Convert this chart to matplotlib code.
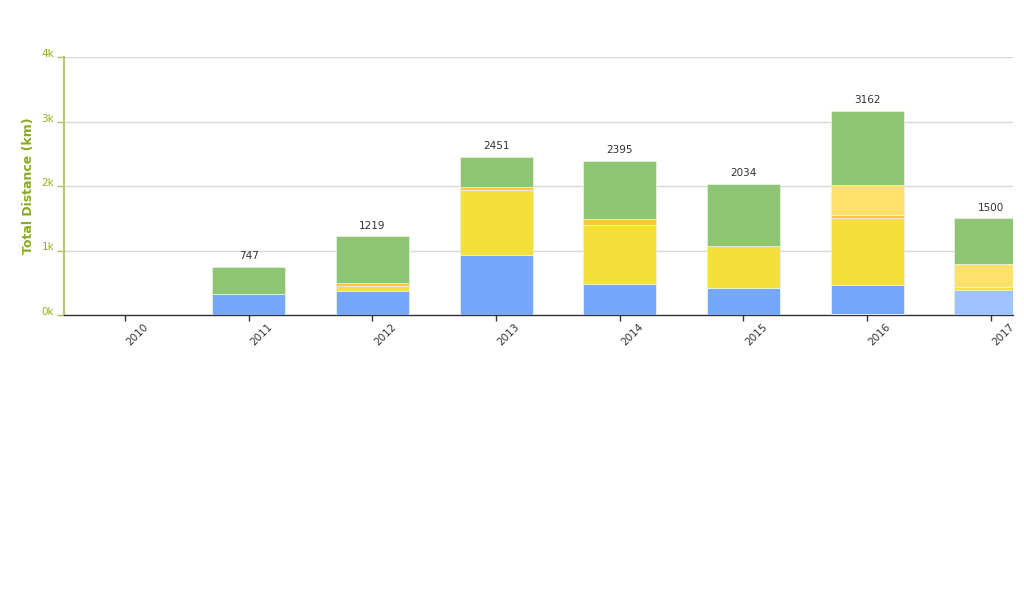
import numpy as np
import matplotlib
matplotlib.use("Agg")
import matplotlib.pyplot as plt

years = ["2010", "2011", "2012", "2013", "2014", "2015", "2016", "2017"]

# stacked series, bottom to top
red = [0, 0, 0, 0, 0, 0, 22, 0]
blue = [0, 326, 372, 930, 481, 423, 440, 0]
light_blue = [0, 0, 0, 0, 0, 0, 0, 393]
yellow = [0, 0, 83, 1008, 909, 652, 1039, 41]
orange = [0, 0, 41, 51, 93, 0, 46, 0]
light_yellow = [0, 0, 0, 0, 0, 0, 476, 361]
green = [0, 421, 723, 462, 912, 959, 1139, 705]
totals = [0, 747, 1219, 2451, 2395, 2034, 3162, 1500]

series = [
    (red, "#d9534f"),
    (blue, "#77a7fb"),
    (light_blue, "#a1c3fd"),
    (yellow, "#f4df3b"),
    (orange, "#fbc63f"),
    (light_yellow, "#fee06a"),
    (green, "#8dc572"),
]

fig = plt.figure(figsize=(10.24, 5.95), dpi=100)
ax = fig.add_axes([64 / 1024, 1 - 315 / 595, (1013 - 64) / 1024, (315 - 57) / 595])

x = np.arange(len(years))
bottom = np.zeros(len(years))
for vals, color in series:
    vals = np.array(vals, dtype=float)
    ax.bar(x, vals, 0.59, bottom=bottom, color=color,
           edgecolor="#e8f0e0", linewidth=0.6, zorder=3)
    bottom += vals

for xi, t in zip(x, totals):
    if t > 0:
        ax.annotate(str(t), (xi, t), xytext=(0, 4), textcoords="offset points",
                    ha="center", va="bottom", fontsize=7.5, color="#333333")

ax.set_xlim(-0.493, 7.18)
ax.set_ylim(0, 4000)
ax.set_yticks([0, 1000, 2000, 3000, 4000])
ax.set_yticklabels(["0k", "1k", "2k", "3k", "4k"], va="baseline")
ax.yaxis.grid(True, color="#d8d8d8", linewidth=1, zorder=0)
ax.set_axisbelow(True)

ax.set_xticks(x)
ax.set_xticklabels(years, rotation=45, ha="left", va="top", fontsize=7.5, color="#333333")

ax.tick_params(axis="y", colors="#a8c060", labelcolor="#90b020", labelsize=7.5,
               length=5, width=1, pad=2)
ax.tick_params(axis="x", color="#333333", length=4, width=1, pad=1)

for side in ["top", "right"]:
    ax.spines[side].set_visible(False)
ax.spines["left"].set_color("#b3c870")
ax.spines["left"].set_linewidth(1.5)
ax.spines["bottom"].set_color("#333333")
ax.spines["bottom"].set_linewidth(1)

ax.set_ylabel("Total Distance (km)", fontsize=9, fontweight="bold", color="#8aaa20", labelpad=5)

fig.savefig("out.png", dpi=100)
